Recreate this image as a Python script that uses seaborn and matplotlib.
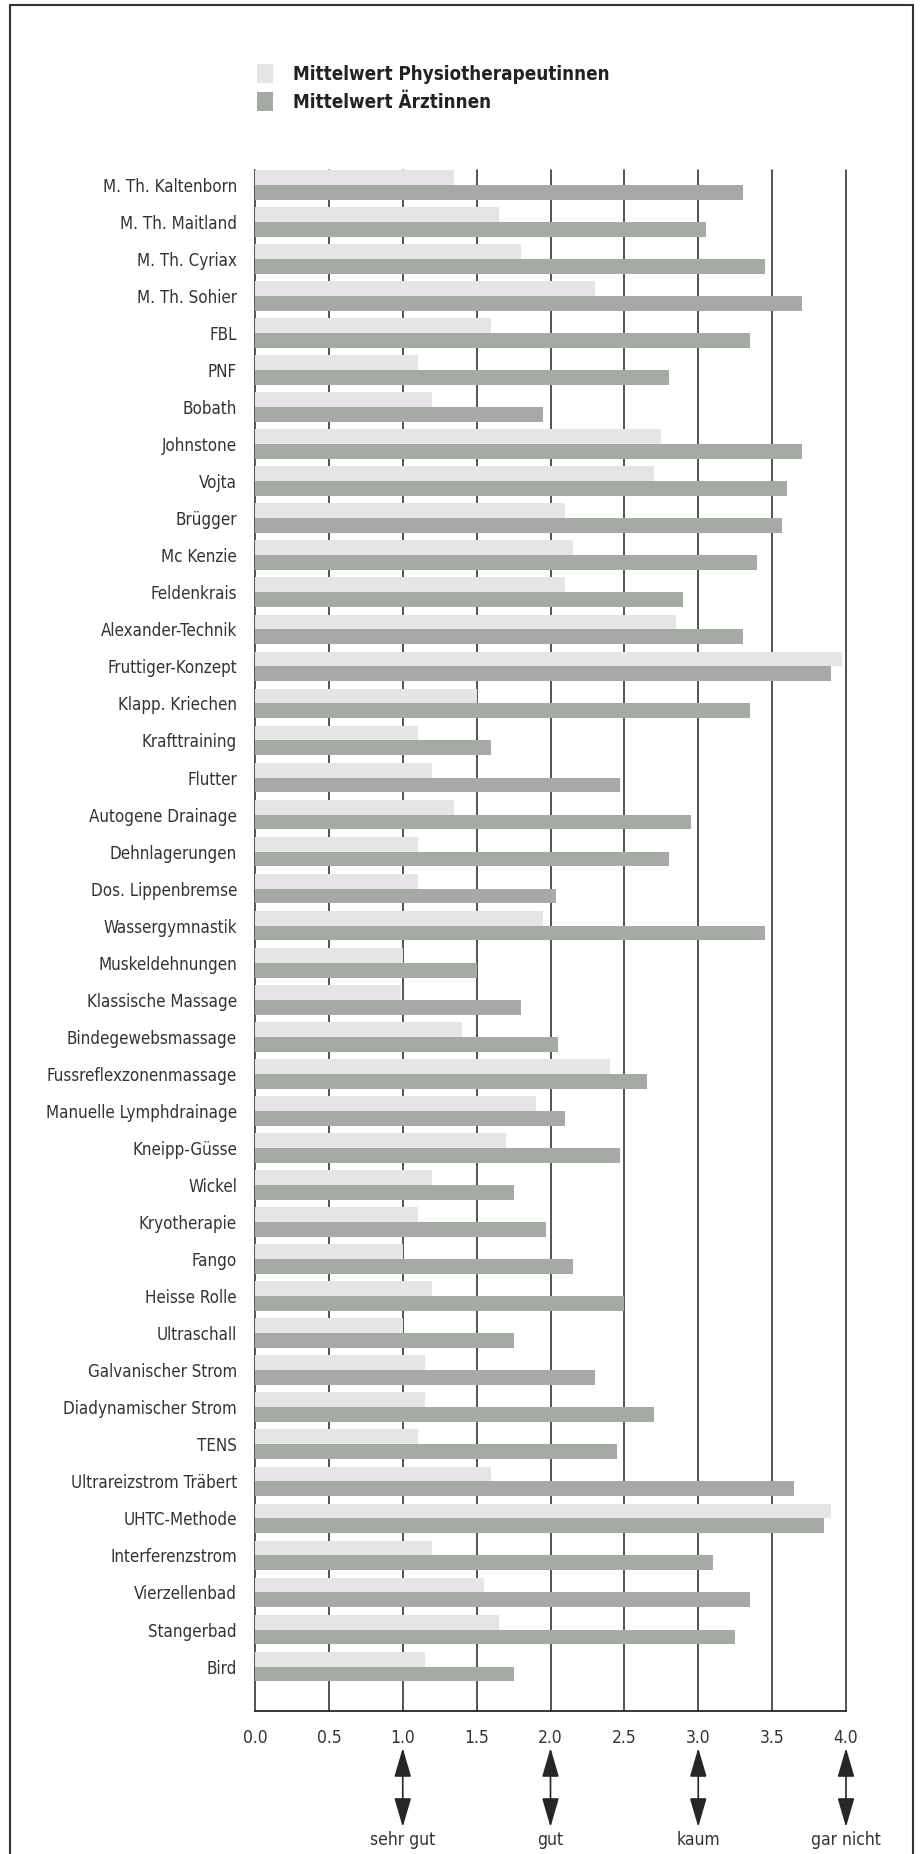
import matplotlib
matplotlib.use("Agg")
import matplotlib.pyplot as plt
from matplotlib.patches import Rectangle
import seaborn as sns
import pandas as pd

categories = [
    "M. Th. Kaltenborn", "M. Th. Maitland", "M. Th. Cyriax", "M. Th. Sohier", "FBL", "PNF",
    "Bobath", "Johnstone", "Vojta", "Brügger", "Mc Kenzie", "Feldenkrais", "Alexander-Technik",
    "Fruttiger-Konzept", "Klapp. Kriechen", "Krafttraining", "Flutter", "Autogene Drainage",
    "Dehnlagerungen", "Dos. Lippenbremse", "Wassergymnastik", "Muskeldehnungen",
    "Klassische Massage", "Bindegewebsmassage", "Fussreflexzonenmassage",
    "Manuelle Lymphdrainage", "Kneipp-Güsse", "Wickel", "Kryotherapie", "Fango",
    "Heisse Rolle", "Ultraschall", "Galvanischer Strom", "Diadynamischer Strom", "TENS",
    "Ultrareizstrom Träbert", "UHTC-Methode", "Interferenzstrom", "Vierzellenbad",
    "Stangerbad", "Bird",
]
physio = [
    1.35, 1.65, 1.80, 2.30, 1.60, 1.10, 1.20, 2.75, 2.70, 2.10, 2.15, 2.10, 2.85,
    3.97, 1.50, 1.10, 1.20, 1.35, 1.10, 1.10, 1.95, 1.00, 0.99, 1.40, 2.40,
    1.90, 1.70, 1.20, 1.10, 1.00, 1.20, 1.00, 1.15, 1.15, 1.10,
    1.60, 3.90, 1.20, 1.55, 1.65, 1.15,
]
aerzte = [
    3.30, 3.05, 3.45, 3.70, 3.35, 2.80, 1.95, 3.70, 3.60, 3.57, 3.40, 2.90, 3.30,
    3.90, 3.35, 1.60, 2.47, 2.95, 2.80, 2.04, 3.45, 1.50, 1.80, 2.05, 2.65,
    2.10, 2.47, 1.75, 1.97, 2.15, 2.50, 1.75, 2.30, 2.70, 2.45,
    3.65, 3.85, 3.10, 3.35, 3.25, 1.75,
]
series_names = ["Mittelwert Physiotherapeutinnen", "Mittelwert Ärztinnen"]
x_ticks = [0.0, 0.5, 1.0, 1.5, 2.0, 2.5, 3.0, 3.5, 4.0]
scale_positions = [1.0, 2.0, 3.0, 4.0]
scale_labels = ["sehr gut", "gut", "kaum", "gar nicht"]

df = pd.DataFrame({
    "Methode": categories * 2,
    "Wert": physio + aerzte,
    "Gruppe": [series_names[0]] * len(categories) + [series_names[1]] * len(categories),
})

sns.set_theme(style="white")
plt.rcParams["font.family"] = ["DejaVu Sans"]
plt.rcParams["font.stretch"] = "condensed"

W, H = 921, 1854
fig = plt.figure(figsize=(W / 100, H / 100), dpi=100)
fig.patch.set_facecolor("white")

ax_l, ax_r, ax_t, ax_b = 255, 846, 170, 1711
ax = fig.add_axes([ax_l / W, 1 - ax_b / H, (ax_r - ax_l) / W, (ax_b - ax_t) / H])

light = "#e7e4e8"
dark = "#a6aaa4"
sns.barplot(data=df, y="Methode", x="Wert", hue="Gruppe", orient="h",
            palette=[light, dark], width=0.8, ax=ax, saturation=1,
            linewidth=0, zorder=3)

ax.set_xlim(0, 4.0)
ax.set_ylim(len(categories) + 0.2, -0.4)
ax.set_xticks(x_ticks)
ax.set_xticklabels([f"{t:.1f}" for t in x_ticks], fontsize=12.5, color="#333333")
ax.set_xlabel("")
ax.set_ylabel("")
ax.tick_params(axis="y", length=0, pad=13, labelsize=12.2, labelcolor="#333333")
ax.tick_params(axis="x", length=5, width=1.0, color="#222222", pad=8, direction="out")

for xv in x_ticks[1:]:
    ax.axvline(xv, color="#262626", lw=1.1, zorder=1, clip_on=False)
ax.spines["top"].set_visible(False)
ax.spines["right"].set_visible(False)
ax.spines["left"].set_color("#262626")
ax.spines["left"].set_linewidth(1.1)
ax.spines["bottom"].set_color("#262626")
ax.spines["bottom"].set_linewidth(1.3)
ax.grid(False)

# legend
handles, labels = ax.get_legend_handles_labels()
ax.get_legend().remove()
fig.legend(handles, labels, loc="upper left",
           bbox_to_anchor=(240 / W, 1 - 47 / H), frameon=False,
           prop={"family": ["DejaVu Sans"], "stretch": "condensed", "weight": "bold", "size": 13.5},
           handlelength=0.85, handleheight=1.2, handletextpad=1.1, labelspacing=0.45,
           labelcolor="#222222")

# scale arrows
y_top = (ax_b - 1748) / (ax_b - ax_t)
y_bot = (ax_b - 1827) / (ax_b - ax_t)
y_lab = (ax_b - 1840) / (ax_b - ax_t)
for xv, lab in zip(scale_positions, scale_labels):
    ax.annotate("", xy=(xv, y_top), xytext=(xv, y_bot),
                xycoords=("data", "axes fraction"), textcoords=("data", "axes fraction"),
                arrowprops=dict(arrowstyle="<|-|>,head_length=1.2,head_width=0.35",
                                mutation_scale=15, color="#262626", lw=1.2,
                                shrinkA=0, shrinkB=0),
                annotation_clip=False)
    ax.text(xv, y_lab, lab, transform=ax.get_xaxis_transform(), ha="center", va="center",
            fontsize=12.5, color="#333333")

# frame
fig.patches.append(Rectangle((10 / W, -0.01), (913 - 10) / W, 1.01 - 5 / H,
                             transform=fig.transFigure, fill=False,
                             edgecolor="#333333", lw=1.5))

fig.savefig("out.png", dpi=100)
